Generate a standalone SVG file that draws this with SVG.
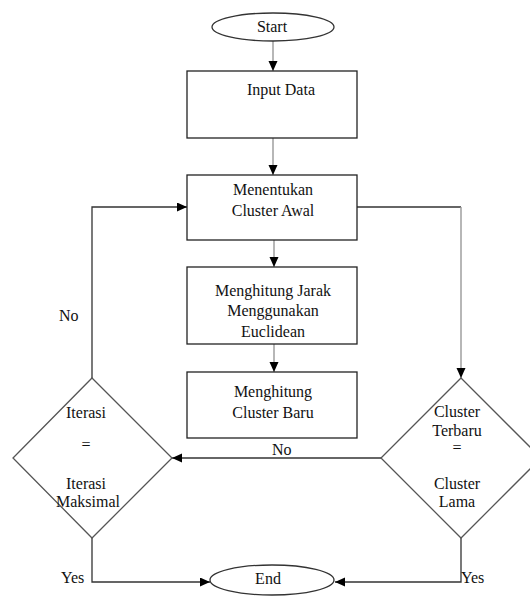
<svg xmlns="http://www.w3.org/2000/svg" width="530" height="596" viewBox="0 0 530 596">
  <style>
    .box { fill: #fff; stroke: #222; stroke-width: 1.3; }
    .term { fill: #fff; stroke: #333; stroke-width: 1.3; }
    .dia { fill: #fff; stroke: #555; stroke-width: 1.3; }
    .lbl { font-family: "Liberation Serif", "Times New Roman", serif; font-size: 16px; fill: #111; text-anchor: middle; }
    .tag { font-family: "Liberation Serif", "Times New Roman", serif; font-size: 16px; fill: #111; }
    .flow { fill: none; stroke: #999; stroke-width: 1.4; }
    .wire { fill: none; stroke: #333; stroke-width: 1.3; }
  </style>
  <defs>
    <marker id="tip" markerUnits="userSpaceOnUse" markerWidth="10" markerHeight="10" refX="10" refY="4.5" orient="auto">
      <path d="M0,0 L10,4.5 L0,9 z" fill="#000"/>
    </marker>
  </defs>

  <rect width="530" height="596" fill="#fff"/>

  <g id="connectors">
    <line class="flow" x1="273" y1="41" x2="273" y2="71" marker-end="url(#tip)"/>
    <line class="flow" x1="273" y1="138" x2="273" y2="175" marker-end="url(#tip)"/>
    <line class="flow" x1="274" y1="240" x2="274" y2="267" marker-end="url(#tip)"/>
    <line class="flow" x1="274" y1="344" x2="274" y2="372" marker-end="url(#tip)"/>
    <path class="wire" d="M357,207 H461"/>
    <path class="flow" d="M461,207 V378" marker-end="url(#tip)"/>
    <path class="wire" d="M381,458 H172" marker-end="url(#tip)"/>
    <path class="wire" d="M92,378 V207 H187" marker-end="url(#tip)"/>
    <path class="wire" d="M92,538 V582 H210" marker-end="url(#tip)"/>
    <path class="wire" d="M461,538 V582 H335" marker-end="url(#tip)"/>
    <text class="tag" x="59" y="321">No</text>
    <text class="tag" x="272" y="455">No</text>
    <text class="tag" x="61" y="583">Yes</text>
    <text class="tag" x="461" y="583">Yes</text>
  </g>

  <g id="start">
    <ellipse class="term" cx="273" cy="27" rx="61" ry="14"/>
    <text class="lbl" x="272" y="32">Start</text>
  </g>

  <g id="input-data">
    <rect class="box" x="187" y="71" width="170" height="67"/>
    <text class="lbl" x="281" y="95">Input Data</text>
  </g>

  <g id="cluster-awal">
    <rect class="box" x="187" y="175" width="170" height="65"/>
    <text class="lbl" x="273" y="195">Menentukan</text>
    <text class="lbl" x="273" y="216">Cluster Awal</text>
  </g>

  <g id="jarak-euclidean">
    <rect class="box" x="187" y="267" width="170" height="77"/>
    <text class="lbl" x="273" y="296">Menghitung Jarak</text>
    <text class="lbl" x="273" y="316">Menggunakan</text>
    <text class="lbl" x="273" y="337">Euclidean</text>
  </g>

  <g id="cluster-baru">
    <rect class="box" x="187" y="372" width="170" height="66"/>
    <text class="lbl" x="273" y="397">Menghitung</text>
    <text class="lbl" x="273" y="418">Cluster Baru</text>
  </g>

  <g id="cek-iterasi">
    <polygon class="dia" points="92,378 172,458 92,538 13,458"/>
    <text class="lbl" x="86" y="418">Iterasi</text>
    <text class="lbl" x="86" y="450">=</text>
    <text class="lbl" x="86" y="489">Iterasi</text>
    <text class="lbl" x="88" y="507">Maksimal</text>
  </g>

  <g id="cek-cluster">
    <polygon class="dia" points="461,378 541,458 461,538 381,458"/>
    <text class="lbl" x="457" y="417">Cluster</text>
    <text class="lbl" x="457" y="436">Terbaru</text>
    <text class="lbl" x="457" y="453">=</text>
    <text class="lbl" x="457" y="489">Cluster</text>
    <text class="lbl" x="457" y="507">Lama</text>
  </g>

  <g id="end">
    <ellipse class="term" cx="272" cy="580" rx="62" ry="15"/>
    <text class="lbl" x="268" y="584">End</text>
  </g>
</svg>
